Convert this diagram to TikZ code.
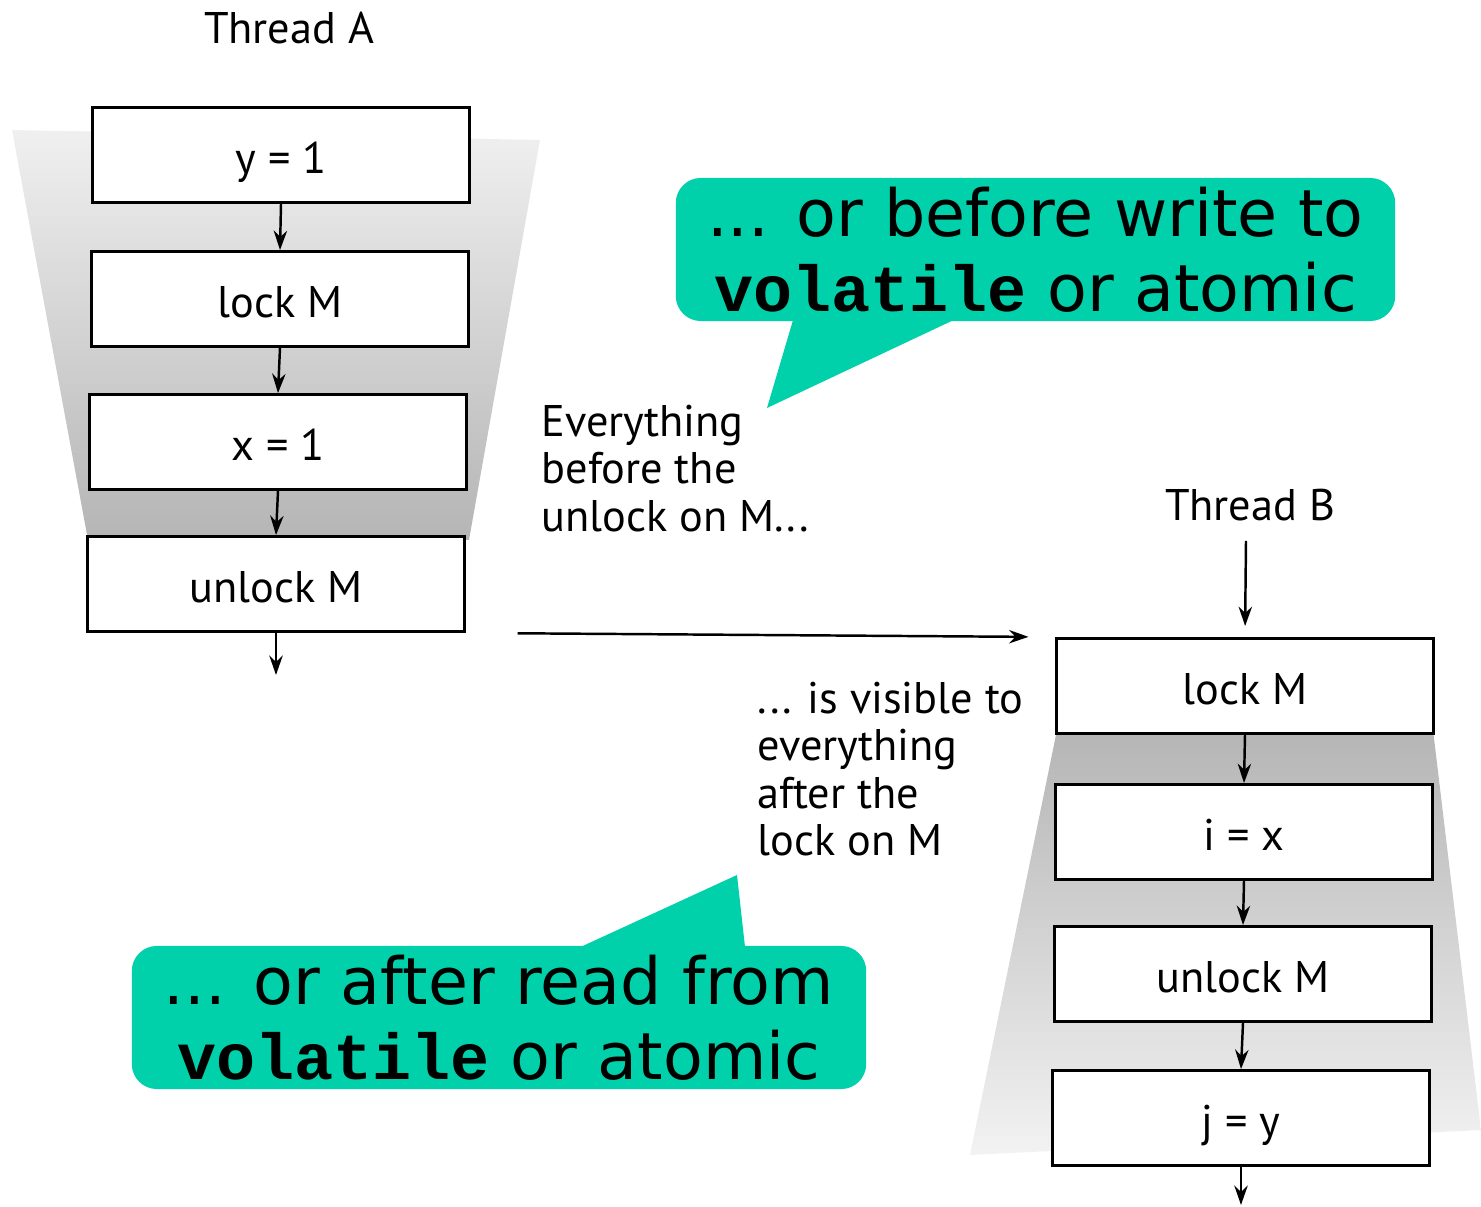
\documentclass[tikz,border=0pt]{standalone}
\usepackage{fontspec}
\setmainfont{PT Sans}
\newfontfamily\callfont{DejaVu Sans}
\newfontfamily\codefont{Liberation Mono}
\usetikzlibrary{arrows.meta,positioning}

\definecolor{calloutgreen}{RGB}{0,209,170}
\newcommand{\figfont}{\fontsize{12.6}{13.5}\selectfont}
\newcommand{\bubblefont}{\callfont\fontsize{18.5}{21.4}\selectfont}

\begin{document}
\begin{tikzpicture}[x=0.01cm,y=-0.01cm,
  box/.style={draw,line width=0.8pt,fill=white,minimum width=3.76cm,minimum height=0.95cm,text height=1.15em,text depth=0.1em,font=\figfont},
  flow/.style={-{Stealth[length=5.5pt,width=3.8pt]},line width=0.7pt},
  note/.style={align=left,anchor=north west,inner sep=0pt,font=\figfont},
  bubble/.style={fill=calloutgreen,rounded corners=0.25cm,minimum width=7.19cm,minimum height=1.43cm,align=center,inner sep=0pt,font=\bubblefont}]

\useasboundingbox (0,0) rectangle (1481,1207);

%% Shaded funnels behind the threads
\shade[top color=gray!12,bottom color=gray!58] (12,130) -- (540,140) -- (469,540) -- (88,540) -- cycle;
\shade[top color=gray!58,bottom color=gray!10] (1057,730) -- (1433,730) -- (1481,1130) -- (970,1155) -- cycle;

% Thread A
\node[font=\figfont] (threadA) at (289,28) {Thread A};
\node[box] (yA) at (281,155) {y = 1};
\node[box] (lockA) at (280,299) {lock M};
\node[box] (xA) at (278,442) {x = 1};
\node[box] (unlockA) at (276,584) {unlock M};
\coordinate (outA) at (276,675);

\foreach \a/\b in {yA/lockA,lockA/xA,xA/unlockA}
  \draw[flow] (\a.south) -- (\b.north);
\draw[flow] (unlockA.south) -- (outA);

% Thread B
\node[font=\figfont] (threadB) at (1250,505) {Thread B};
\coordinate (inB) at (1246,541);
\node[box] (lockB) at (1245,686) {lock M};
\node[box] (iB) at (1244,832) {i = x};
\node[box] (unlockB) at (1243,974) {unlock M};
\node[box] (jB) at (1241,1118) {j = y};
\coordinate (outB) at (1241,1205);

\draw[flow,shorten >=0.11cm] (inB) -- (lockB.north);
\foreach \a/\b in {lockB/iB,iB/unlockB,unlockB/jB}
  \draw[flow] (\a.south) -- (\b.north);
\draw[flow] (jB.south) -- (outB);

% release -> acquire
\draw[flow,shorten <=0.52cm,shorten >=0.27cm] (unlockA.south east) -- (lockB.north west);

% notes
\node[note] (before) at (541,404) {Everything\\before the\\unlock on M...};
\node[note] (visible) at (757,681) {... is visible to\\everything\\after the\\lock on M};

% callouts
\coordinate (tipW) at (767,408);
\fill[calloutgreen] (796,310) -- (tipW) -- (975,310) -- cycle;
\node[bubble] (write) at (1035.5,249.5) {... or before write to\\{\codefont\bfseries volatile} or atomic};

\coordinate (tipR) at (737,875);
\fill[calloutgreen] (561,956) -- (tipR) -- (746,956) -- cycle;
\node[bubble,minimum width=7.34cm] (read) at (499,1017.5) {... or after read from\\{\codefont\bfseries volatile} or atomic};

\end{tikzpicture}
\end{document}
